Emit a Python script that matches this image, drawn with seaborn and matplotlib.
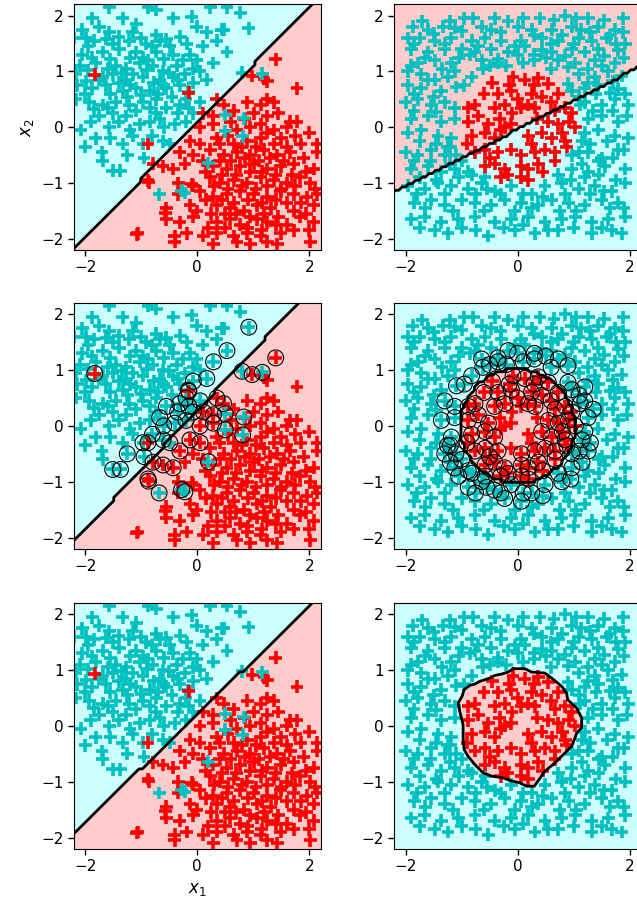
import numpy as np
import pandas as pd
import matplotlib
matplotlib.use("Agg")
import matplotlib.pyplot as plt
import seaborn as sns

# ---------------- data: left column dataset ----------------
left_cyan = [
    (-1.57,2.15),(-0.88,2.15),(-0.73,2.1),(0.23,2.15),(0.53,2.15),(0.77,2.05),
    (-1.87,1.95),(-1.33,1.95),(-1.09,1.85),(-0.43,1.95),(-0.1,1.98),(-0.01,1.8),(0.44,1.75),
    (-2.05,1.75),(-1.75,1.8),(-1.57,1.7),(-1.15,1.7),(-0.73,1.65),(0.17,1.7),(0.47,1.75),(0.92,1.77),
    (-2.2,1.6),(-1.99,1.6),(-1.84,1.55),(-1.51,1.5),(-1.21,1.55),(-0.91,1.5),(-0.67,1.55),(-0.49,1.45),(-0.19,1.5),(0.35,1.55),
    (-2.05,1.3),(-1.69,1.35),(-1.39,1.4),(-1.09,1.35),(-0.97,1.25),(-0.73,1.35),(-0.43,1.3),(-0.13,1.3),(-0.01,1.2),(0.53,1.35),
    (-2.1,1.1),(-1.81,1.15),(-1.45,1.1),(-1.27,1.05),(-1.03,1.15),(-0.79,1.1),(-0.61,1.0),(-0.37,1.1),(-0.07,1.05),(0.29,1.15),
    (-2.17,0.95),(-1.69,0.9),(-1.51,0.95),(-1.27,0.85),(-0.97,0.9),(-0.67,0.85),(-0.43,0.9),(-0.07,0.8),(0.17,0.85),(0.8,0.98),(1.16,0.96),
    (-2.14,0.75),(-1.87,0.7),(-1.63,0.75),(-1.33,0.65),(-1.09,0.7),(-0.85,0.65),(-0.55,0.7),(-0.31,0.75),(-0.16,0.64),
    (-2.17,0.5),(-1.93,0.45),(-1.69,0.4),(-1.45,0.45),(-1.21,0.4),(-0.97,0.45),(-0.73,0.5),(-0.31,0.4),(0.05,0.45),
    (-1.75,0.2),(-1.51,0.25),(-1.27,0.2),(-0.73,0.25),(-0.67,0.15),(-0.07,0.25),
    (-2.08,-0.05),(-1.57,0.0),(-1.03,0.05),(-0.4,0.05),
    (-1.81,-0.2),(-1.33,-0.3),(-0.97,-0.3),(-0.61,-0.25),(-0.49,-0.3),
    (-1.69,-0.6),(-1.51,-0.78),(-1.37,-0.78),
    (-1.95,1.45),(-1.62,1.58),(-1.4,1.62),(-1.0,1.6),(-0.8,1.45),(-0.55,1.58),(-0.3,1.62),
    (-1.88,1.25),(-1.55,1.22),(-1.2,1.25),(-0.88,1.2),(-0.6,1.22),(-0.25,1.2),(0.1,1.45),
    (-1.95,1.02),(-1.6,1.05),(-1.35,0.98),(-1.15,0.95),(-0.9,1.02),(-0.5,0.98),(-0.22,0.95),(0.05,1.0),
    (-1.98,0.82),(-1.75,0.85),(-1.4,0.8),(-1.2,0.75),(-0.78,0.8),(-0.6,0.75),(-0.35,0.85),
    (-2.0,0.6),(-1.55,0.6),(-1.25,0.55),(-1.0,0.58),(-0.7,0.6),(-0.45,0.55),(-0.2,0.5),
    (-1.85,0.32),(-1.6,0.35),(-1.1,0.3),(-0.85,0.35),(-0.55,0.35),(-0.35,0.25),(-0.15,0.35),
    (-1.9,0.1),(-1.4,0.1),(-1.2,-0.05),(-0.85,0.1),(-0.6,0.0),(-0.2,0.1),
    (-2.0,-0.35),(-1.55,-0.2),(-1.15,-0.15),(-0.8,-0.15),(-1.7,-0.45),(-1.25,-0.5),(-0.95,-0.55),
    (0.5,0.22),(0.83,0.16),(0.5,-0.07),(0.81,-0.16),(0.2,-0.64),(-0.68,-1.2),(-0.28,-1.14),(-0.22,-1.18),
]
left_red = [
    (1.4,1.22),(0.98,0.92),(1.19,0.87),(1.25,0.82),(1.78,0.7),
    (0.35,0.5),(0.47,0.4),(0.89,0.45),(1.13,0.4),(1.25,0.5),(1.37,0.45),
    (0.11,0.25),(0.29,0.2),(0.65,0.3),(1.01,0.25),(1.25,0.2),(1.66,0.1),(1.78,0.1),
    (0.05,0.0),(0.29,0.05),(0.71,-0.05),(0.95,0.0),(1.13,0.05),(1.37,-0.05),(1.6,0.0),(2.14,-0.3),
    (-0.13,-0.25),(0.05,-0.3),(0.35,-0.2),(0.65,-0.3),(0.89,-0.25),(1.13,-0.2),(1.37,-0.3),(1.6,-0.35),(2.14,-0.45),
    (-0.31,-0.45),(-0.07,-0.5),(0.23,-0.4),(0.47,-0.5),(0.71,-0.45),(0.95,-0.5),(1.19,-0.4),(1.43,-0.5),(1.66,-0.45),
    (-0.79,-0.65),(-0.61,-0.7),(-0.43,-0.75),(-0.22,-0.65),(0.29,-0.7),(0.53,-0.75),(0.77,-0.7),(1.01,-0.65),(1.25,-0.75),(1.49,-0.7),(1.72,-0.65),(2.08,-0.75),
    (-0.88,-0.95),(-0.34,-1.0),(-0.07,-1.05),(0.23,-0.9),(0.41,-1.0),(0.65,-0.95),(0.89,-1.0),(1.13,-0.9),(1.37,-0.95),(1.6,-1.0),(1.84,-0.9),(2.02,-1.0),
    (-0.34,-1.2),(0.05,-1.15),(0.29,-1.25),(0.53,-1.2),(0.77,-1.15),(1.01,-1.2),(1.25,-1.25),(1.49,-1.15),(1.72,-1.2),(1.96,-1.25),(2.14,-1.2),
    (-0.55,-1.45),(-0.13,-1.4),(-0.01,-1.5),(0.35,-1.4),(0.59,-1.45),(0.83,-1.5),(1.07,-1.4),(1.31,-1.45),(1.72,-1.5),(2.08,-1.4),
    (-0.55,-1.65),(-0.31,-1.7),(-0.07,-1.6),(0.35,-1.7),(0.59,-1.65),(0.77,-1.75),(1.07,-1.65),(1.25,-1.7),(1.6,-1.75),(1.84,-1.6),(2.08,-1.7),
    (-1.06,-1.9),(-0.4,-1.95),(-0.19,-1.9),(0.11,-1.95),(0.35,-1.9),(0.65,-1.95),(0.89,-1.9),(1.13,-1.95),(1.49,-1.9),(1.72,-1.85),
    (-0.4,-2.05),(0.29,-2.1),(0.71,-2.05),(0.95,-2.1),(1.25,-2.05),(1.43,-2.1),(2.02,-2.05),
    (0.4,-0.3),(0.8,-0.35),(1.05,-0.35),(1.5,-0.2),(1.85,-0.3),
    (0.1,-0.6),(0.4,-0.6),(0.6,-0.6),(0.85,-0.55),(1.1,-0.6),(1.3,-0.55),(1.55,-0.6),(1.9,-0.55),
    (0.15,-0.8),(0.45,-0.85),(0.7,-0.85),(0.95,-0.8),(1.15,-0.8),(1.4,-0.85),(1.7,-0.85),(1.95,-0.8),
    (0.3,-1.05),(0.55,-1.1),(0.8,-1.05),(1.05,-1.1),(1.25,-1.05),(1.5,-1.1),(1.75,-1.05),(2.1,-1.1),
    (0.15,-1.3),(0.45,-1.3),(0.65,-1.35),(0.9,-1.3),(1.15,-1.35),(1.4,-1.3),(1.6,-1.35),(1.85,-1.35),
    (0.25,-1.55),(0.5,-1.55),(0.7,-1.55),(0.95,-1.6),(1.2,-1.55),(1.45,-1.6),(1.95,-1.55),
    (0.2,-1.8),(0.5,-1.8),(0.9,-1.8),(1.15,-1.85),(1.4,-1.75),(2.0,-1.85),
    (0.6,0.1),(0.85,0.15),(1.45,0.25),(0.55,-0.15),(1.25,-0.1),(1.75,-0.15),(2.0,-0.1),
    (-1.83,0.94),(-0.15,0.62),(-0.88,-0.3),(-0.87,-0.99),(-0.1,-1.02),(-0.57,-1.53),(-1.08,-1.92),
]

# ---------------- data: right column dataset ----------------
right_cyan = [
    (-0.79,1.95),(-0.41,1.95),(-0.17,1.9),(0.4,1.95),(0.85,2.0),(1.26,1.95),(1.89,1.95),
    (-1.87,1.8),(-1.6,1.75),(-1.33,1.8),(-1.12,1.78),(-0.64,1.8),(-0.47,1.75),(0.01,1.8),(0.25,1.75),(0.61,1.75),(0.97,1.8),(1.14,1.75),(1.44,1.8),(1.74,1.75),(1.89,1.7),
    (-1.96,1.6),(-1.75,1.6),(-1.48,1.55),(-1.18,1.6),(-0.82,1.55),(-0.58,1.6),(-0.29,1.55),(0.07,1.55),(0.43,1.6),(0.73,1.55),(1.09,1.6),(1.32,1.55),(1.59,1.6),(1.92,1.5),
    (-1.9,1.4),(-1.6,1.35),(-1.3,1.4),(-1.0,1.4),(-0.76,1.35),(-0.47,1.4),(-0.17,1.35),(0.13,1.45),(0.43,1.38),(0.61,1.35),(0.97,1.4),(1.2,1.35),(1.44,1.4),(1.8,1.38),
    (-1.78,1.15),(-1.48,1.2),(-1.18,1.15),(-0.64,1.2),(-0.35,1.15),(0.73,1.2),(1.03,1.15),(1.38,1.2),(1.74,1.15),
    (-1.96,1.0),(-1.72,0.95),(-1.48,0.85),(-1.12,1.0),(-0.82,0.9),(1.09,0.95),(1.38,0.9),(1.62,1.0),(1.86,0.92),
    (-1.96,0.75),(-1.72,0.7),(-1.36,0.65),(-1.09,0.72),(0.97,0.65),(1.2,0.7),(1.44,0.75),(1.8,0.68),(1.92,0.6),
    (-2.0,0.45),(-1.78,0.5),(-1.54,0.4),(-1.3,0.45),(-1.12,0.35),(1.2,0.45),(1.5,0.4),(1.74,0.5),(1.98,0.4),
    (-1.9,0.15),(-1.6,0.2),(-1.36,0.1),(-1.12,0.15),(1.26,0.15),(1.5,0.2),(1.8,0.1),
    (-1.96,-0.1),(-1.72,-0.05),(-1.42,-0.15),(-1.18,-0.2),(1.2,-0.1),(1.44,-0.05),(1.74,-0.15),(1.98,-0.2),
    (-2.0,-0.45),(-1.78,-0.5),(-1.54,-0.4),(-1.3,-0.5),(-1.0,-0.6),(0.97,-0.5),(1.26,-0.45),(1.5,-0.55),(1.8,-0.4),
    (-1.9,-0.75),(-1.6,-0.7),(-1.36,-0.8),(-1.12,-0.75),(-0.82,-0.85),(-0.58,-0.9),(0.73,-0.85),(0.97,-0.75),(1.26,-0.8),(1.56,-0.7),(1.92,-0.75),
    (-1.96,-1.05),(-1.66,-1.1),(-1.42,-1.0),(-1.18,-1.05),(-0.88,-1.1),(-0.64,-1.0),(-0.41,-1.15),(-0.11,-1.05),(0.25,-1.2),(0.49,-1.05),(0.79,-1.0),(1.09,-1.1),(1.38,-1.05),(1.68,-1.15),(1.92,-1.0),
    (-1.84,-1.35),(-1.54,-1.3),(-1.3,-1.4),(-1.0,-1.3),(-0.76,-1.35),(-0.47,-1.4),(-0.23,-1.3),(0.07,-1.35),(0.37,-1.4),(0.61,-1.3),(0.91,-1.35),(1.2,-1.4),(1.5,-1.3),(1.8,-1.35),
    (-1.9,-1.65),(-1.66,-1.6),(-1.36,-1.7),(-1.06,-1.65),(-0.76,-1.6),(-0.41,-1.7),(-0.11,-1.65),(0.19,-1.6),(0.49,-1.7),(0.79,-1.65),(1.03,-1.6),(1.32,-1.7),(1.62,-1.65),(1.92,-1.6),
    (-1.48,-1.85),(-1.24,-1.9),(-0.52,-1.95),(-0.05,-1.85),(0.31,-1.9),(0.73,-1.85),(1.32,-1.9),(1.68,-1.85),(1.86,-1.9),
    (1.12,0.4),(0.9,0.78),(0.6,1.05),(0.3,1.2),(0.0,1.3),(-0.35,1.22),(-0.62,1.05),(-0.95,0.75),
    (-1.25,-0.35),(-1.1,-0.5),(-0.88,-0.8),(-0.3,-1.2),(0.1,-1.2),(1.1,-0.45),(1.15,-0.25),(0.1,1.15),(0.5,1.25),(-0.2,1.1),
    (-1.7,1.9),(-1.2,1.9),(-0.95,1.95),(0.1,1.95),(0.65,1.92),(1.05,1.95),(1.55,1.92),
    (-1.5,1.68),(-1.0,1.72),(-0.3,1.7),(0.3,1.65),(0.8,1.65),(1.3,1.7),(1.65,1.65),
    (-1.85,1.5),(-1.3,1.5),(-0.7,1.45),(-0.05,1.45),(0.6,1.5),(1.0,1.5),(1.75,1.5),
    (-1.65,1.25),(-1.05,1.25),(-0.85,1.3),(0.3,1.3),(0.85,1.28),(1.55,1.28),(1.9,1.25),
    (-1.9,1.1),(-1.35,1.05),(-0.5,1.1),(0.9,1.08),(1.25,1.05),(1.5,1.1),
    (-1.6,0.85),(-1.25,0.9),(1.25,0.8),(1.7,0.82),(-1.85,0.6),(-1.5,0.55),(1.4,0.6),(1.65,0.62),(1.1,0.55),
    (-1.85,0.3),(-1.45,0.28),(1.35,0.3),(1.7,0.3),(1.95,0.2),
    (-1.75,-0.25),(-1.45,-0.3),(1.3,-0.3),(1.6,-0.25),(1.9,-0.4),
    (-1.85,-0.6),(-1.55,-0.6),(-1.2,-0.65),(1.15,-0.65),(1.45,-0.6),(1.7,-0.55),
    (-1.75,-0.9),(-1.45,-0.95),(-1.05,-0.9),(0.95,-0.95),(1.2,-0.9),(1.45,-0.85),(1.75,-0.95),
    (-1.8,-1.2),(-1.3,-1.2),(-0.75,-1.2),(-0.55,-1.1),(0.45,-1.25),(0.85,-1.2),(1.3,-1.2),(1.55,-1.15),
    (-1.65,-1.45),(-1.15,-1.5),(-0.6,-1.5),(-0.05,-1.5),(0.25,-1.45),(0.75,-1.5),(1.05,-1.5),(1.65,-1.45),(1.9,-1.45),
    (-1.75,-1.8),(-1.0,-1.8),(-0.75,-1.85),(-0.25,-1.8),(0.1,-1.75),(0.55,-1.85),(1.0,-1.8),(1.5,-1.8),
    (-1.2,-0.35),
]
right_red = [
    (-0.08,0.9),(0.13,0.85),(0.37,0.88),(0.55,0.78),
    (-0.35,0.6),(-0.11,0.65),(0.25,0.6),(0.43,0.55),(0.73,0.6),
    (-0.88,0.35),(-0.76,0.4),(-0.41,0.35),(-0.23,0.4),(0.07,0.35),(0.19,0.4),(0.31,0.35),(0.67,0.3),(0.85,0.35),(0.97,0.25),
    (-0.88,0.1),(-0.52,0.05),(-0.32,0.15),(-0.23,0.0),(-0.11,0.05),(0.55,0.1),(0.73,0.05),(0.91,0.1),(1.03,0.0),
    (-0.82,-0.15),(-0.58,-0.1),(-0.41,-0.2),(0.19,-0.15),(0.43,-0.1),(0.61,-0.2),(0.85,-0.25),
    (-0.76,-0.45),(-0.58,-0.4),(-0.35,-0.45),(-0.11,-0.4),(0.07,-0.5),(0.31,-0.45),(0.49,-0.4),(0.67,-0.45),(0.88,-0.35),
    (-0.58,-0.7),(-0.41,-0.65),(-0.23,-0.75),(0.07,-0.7),(0.19,-0.75),(0.37,-0.65),(0.67,-0.6),
    (-0.17,-0.85),(0.07,-0.9),(0.19,-0.95),
    (-0.45,0.8),(-0.6,0.6),(0.0,0.5),(0.6,0.45),(-0.7,0.2),(-0.1,0.25),(0.35,0.15),(0.8,-0.1),
    (-0.3,-0.05),(-0.5,-0.55),(0.45,-0.8),(-0.3,-0.9),(0.25,-0.3),(-0.9,-0.3),(-0.15,0.75),(0.3,0.75),
]

# ---------------- classifier parameters ----------------
tl_line = (1.03, 0.09)     # top-left, red below
ml_line = (1.066, 0.28)    # middle-left, red below
bl_line = (0.967, 0.207)   # bottom-left, red below
tr_line = (0.515, -0.037)  # top-right, red above
mr_radius = 1.02           # middle-right, red inside circle
br_poly_x = [-0.078,0.131,0.25,0.489,0.608,0.787,0.877,0.894,1.055,1.145,1.145,1.055,1.026,0.966,0.877,
             0.668,0.489,0.37,0.298,0.161,0.042,-0.137,-0.256,-0.465,-0.614,-0.763,-0.883,-0.954,-0.972,
             -0.972,-1.032,-1.061,-0.99,-0.954,-0.853,-0.763,-0.674,-0.584,-0.495,-0.405,-0.286,-0.167]
br_poly_y = [1.026,1.026,0.966,0.948,0.859,0.71,0.59,0.471,0.322,0.143,-0.036,-0.125,-0.215,-0.364,-0.453,
             -0.662,-0.811,-0.978,-1.079,-1.079,-1.02,-0.978,-0.93,-0.9,-0.841,-0.692,-0.543,-0.423,-0.215,
             0.024,0.262,0.411,0.531,0.65,0.727,0.751,0.799,0.829,0.859,0.906,0.93,0.966]

# ---------------- styling ----------------
CYAN, RED = "#00bfbf", "#ff0000"
CYAN_BG, RED_BG = "#ccffff", "#ffcccc"
palette = {"c": CYAN, "r": RED}

def make_df(cyan, red):
    df = pd.DataFrame(cyan + red, columns=["x1", "x2"])
    df["cls"] = ["c"] * len(cyan) + ["r"] * len(red)
    return df

left_df = make_df(left_cyan, left_red)
right_df = make_df(right_cyan, right_red)

# draw the points lying on the "wrong" side last so they stay visible
wrong = np.where(left_df["cls"] == "c",
                 left_df["x2"] < tl_line[0] * left_df["x1"] + tl_line[1],
                 left_df["x2"] > tl_line[0] * left_df["x1"] + tl_line[1])
left_df = pd.concat([left_df[~wrong], left_df[wrong]], ignore_index=True)

h = 0.06
gx, gy = np.meshgrid(np.arange(-2.3, 2.31, h), np.arange(-2.3, 2.31, h))

def grid_background(ax, Z):
    ax.contourf(gx, gy, Z, levels=[-0.5, 0.5, 1.5], colors=[CYAN_BG, RED_BG], zorder=0)
    ax.contour(gx, gy, Z, levels=[0.5], colors="k", linewidths=2, zorder=3)

def points(ax, df):
    sns.scatterplot(data=df, x="x1", y="x2", hue="cls", palette=palette, marker="+",
                    s=85, linewidth=2.6, legend=False, ax=ax, zorder=2)

def circles(ax, df):
    sns.scatterplot(data=df, x="x1", y="x2", marker="o", s=130, facecolor="none",
                    edgecolor="k", linewidth=0.8, legend=False, ax=ax, zorder=4)

def style(ax):
    ax.set_xlim(-2.2, 2.2)
    ax.set_ylim(-2.2, 2.2)
    ax.set_xticks([-2, 0, 2])
    ax.set_yticks([-2, -1, 0, 1, 2])
    ax.tick_params(labelsize=11, length=4, width=1)
    ax.set_xlabel("")
    ax.set_ylabel("")

fig = plt.figure(figsize=(6.37, 9.14), dpi=100)
W, H = 246.5 / 637, 245.5 / 914
lefts = [74 / 637, 394.3 / 637]
bottoms = [(914 - 250) / 914, (914 - 548.7) / 914, (914 - 848.7) / 914]
axes = [[fig.add_axes([l, b, W, H]) for l in lefts] for b in bottoms]

# Left column
for r, (slope, icpt) in enumerate([tl_line, ml_line, bl_line]):
    ax = axes[r][0]
    Z = (gy < slope * gx + icpt).astype(float)
    grid_background(ax, Z)
    points(ax, left_df)
    if r == 1:
        norm = np.hypot(1, slope)
        f = (left_df["x2"] - slope * left_df["x1"] - icpt) / norm
        margin = np.where(left_df["cls"] == "c", f, -f)
        circles(ax, left_df[margin < 0.45])
    style(ax)

# Right column
ax = axes[0][1]
Z = (gy > tr_line[0] * gx + tr_line[1]).astype(float)
grid_background(ax, Z)
points(ax, right_df)
style(ax)

ax = axes[1][1]
Z = (np.hypot(gx, gy) < mr_radius).astype(float)
grid_background(ax, Z)
points(ax, right_df)
rr = np.hypot(right_df["x1"], right_df["x2"])
sv = ((right_df["cls"] == "c") & (rr < 1.42)) | ((right_df["cls"] == "r") & (rr > 0.42))
circles(ax, right_df[sv])
style(ax)

ax = axes[2][1]
ax.set_facecolor(CYAN_BG)
ax.fill(br_poly_x, br_poly_y, color=RED_BG, zorder=0)
ax.plot(br_poly_x + br_poly_x[:1], br_poly_y + br_poly_y[:1], color="k", lw=2, zorder=3)
points(ax, right_df)
style(ax)

axes[0][0].set_ylabel("$x_2$", fontsize=12)
axes[2][0].set_xlabel("$x_1$", fontsize=12)

fig.savefig("out.png", dpi=100)
